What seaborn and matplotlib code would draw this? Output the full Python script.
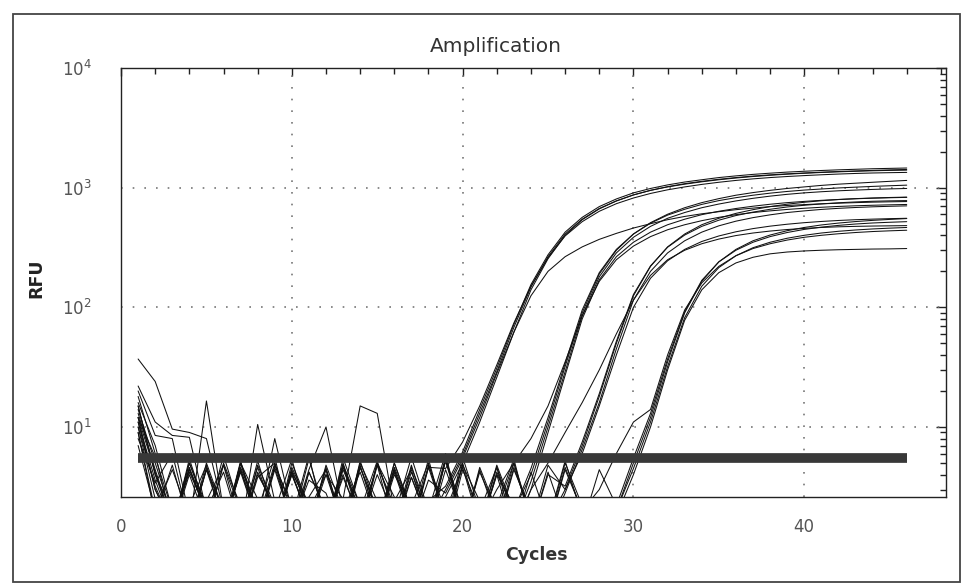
import matplotlib
matplotlib.use("Agg")
import matplotlib.pyplot as plt
import numpy as np
import pandas as pd
import seaborn as sns
from matplotlib.ticker import LogLocator, LogFormatterMathtext, NullFormatter, MultipleLocator
from matplotlib.patches import Rectangle

# cycle numbers 1..46
cycles = list(range(1, 47))

# RFU per well (values under the axis floor are just clipped noise)
a1 = [12, 3.0, 1.5, 4.5, 2.0, 1.2, 5.0, 2.5, 1.5, 4.0, 1.8, 1.3, 5.5, 2.2, 1.5, 4.2, 1.6, 2.4,
      3.2, 6.2, 14, 31, 72, 155, 275, 425, 565, 695, 805, 905, 985, 1055, 1115, 1165, 1215, 1255,
      1292, 1322, 1350, 1372, 1392, 1410, 1425, 1440, 1450, 1460]
a2 = [37, 24, 9.6, 9.0, 8.0, 2.0, 1.4, 4.8, 2.2, 1.5, 3.6, 2.8, 1.2, 4.6, 2.0, 1.3, 3.8, 1.6,
      3.0, 5.8, 13, 29, 68, 148, 265, 410, 545, 670, 775, 870, 950, 1015, 1070, 1120, 1165, 1205,
      1240, 1270, 1297, 1320, 1340, 1357, 1372, 1385, 1395, 1402]
a3 = [16, 7.0, 2.0, 1.5, 16.5, 2.0, 1.3, 10.5, 2.4, 1.5, 4.4, 10.0, 2.0, 1.4, 5.0, 2.6, 1.3, 4.6,
      4.5, 7.5, 15, 33, 74, 150, 260, 395, 520, 635, 735, 820, 895, 960, 1015, 1065, 1110, 1150,
      1185, 1215, 1240, 1262, 1282, 1300, 1315, 1327, 1335, 1342]
a4 = [18, 6.0, 1.5, 5.0, 2.2, 1.4, 4.4, 1.6, 8.0, 2.0, 1.5, 4.0, 2.5, 15, 13, 2.0, 1.4, 3.6,
      2.8, 5.5, 12, 28, 62, 125, 200, 265, 320, 370, 415, 460, 500, 540, 575, 605, 630, 655,
      675, 695, 710, 722, 733, 742, 750, 757, 762, 766]
a5 = [15, 4.0, 1.6, 2.2, 4.8, 1.5, 1.3, 4.2, 2.0, 5.4, 1.6, 1.4, 4.6, 2.0, 1.5, 4.4, 1.8, 1.4,
      2.6, 5.0, 11, 26, 62, 140, 255, 400, 540, 665, 775, 870, 950, 1020, 1080, 1130, 1175, 1215,
      1250, 1280, 1305, 1327, 1347, 1365, 1380, 1395, 1408, 1420]
b1 = [14, 5.0, 1.8, 1.3, 4.6, 2.0, 1.5, 5.2, 1.8, 1.3, 4.2, 2.0, 1.4, 5.0, 2.4, 1.5, 3.8, 1.6,
      1.2, 4.4, 2.0, 1.4, 2.0, 4.0, 11, 32, 90, 190, 300, 410, 510, 600, 680, 750, 810, 865,
      910, 950, 985, 1015, 1045, 1070, 1090, 1110, 1130, 1150]
b2 = [10, 2.5, 1.4, 4.0, 1.6, 5.8, 2.0, 1.3, 4.8, 2.2, 1.5, 4.6, 1.4, 2.0, 5.2, 1.8, 1.4, 4.8,
      2.0, 1.3, 4.4, 1.7, 1.5, 3.5, 10, 29, 85, 180, 285, 385, 475, 555, 620, 680, 730, 775,
      815, 850, 880, 905, 925, 942, 955, 967, 977, 985]
b3 = [8, 3.4, 6.0, 1.6, 2.4, 4.8, 1.5, 2.0, 5.6, 1.4, 2.6, 4.4, 1.6, 1.3, 4.8, 2.2, 1.5, 5.4,
      1.6, 2.4, 1.4, 4.0, 1.3, 3.0, 9, 27, 80, 170, 265, 350, 425, 490, 545, 595, 635, 670,
      700, 727, 750, 768, 784, 797, 808, 817, 824, 830]
b4 = [22, 11, 8.5, 8.2, 2.0, 1.4, 4.6, 2.0, 1.5, 4.0, 1.7, 1.3, 4.4, 2.0, 1.5, 5.0, 2.0, 1.4,
      5.4, 2.0, 1.6, 3.0, 5.0, 8.0, 15, 35, 85, 165, 250, 325, 390, 445, 490, 530, 565, 595,
      620, 640, 658, 673, 686, 697, 706, 713, 719, 724]
b5 = [12, 4.2, 1.5, 5.0, 2.0, 1.4, 4.4, 1.8, 1.3, 5.0, 2.2, 1.5, 4.0, 1.6, 1.4, 4.6, 2.0, 1.5,
      5.2, 1.7, 1.4, 4.2, 2.0, 4.5, 12, 34, 95, 195, 305, 410, 505, 590, 660, 725, 780, 825,
      865, 900, 930, 955, 975, 995, 1010, 1025, 1038, 1050]
c1 = [9, 2.0, 1.4, 5.4, 2.0, 1.5, 4.2, 1.6, 1.3, 4.6, 2.2, 1.5, 3.8, 1.7, 4.8, 1.4, 2.2, 5.0,
      1.6, 1.3, 4.6, 2.0, 1.4, 4.2, 1.6, 3.0, 7.0, 18, 50, 125, 220, 320, 410, 490, 555, 610,
      655, 695, 728, 755, 778, 796, 810, 820, 828, 834]
c2 = [15, 4.0, 2.0, 1.5, 4.4, 2.0, 1.3, 3.8, 5.0, 1.6, 1.4, 4.8, 2.0, 1.5, 4.0, 1.8, 5.6, 2.0,
      1.4, 4.8, 2.4, 1.5, 5.0, 1.8, 1.3, 2.8, 6.5, 16, 45, 115, 200, 285, 360, 425, 480, 525,
      562, 593, 620, 640, 658, 672, 683, 692, 699, 705]
c3 = [7, 2.0, 4.4, 1.8, 1.4, 5.0, 2.2, 1.5, 4.6, 1.7, 5.8, 1.4, 2.0, 4.2, 1.6, 1.3, 4.6, 2.0,
      6.0, 1.5, 1.4, 4.0, 2.2, 1.5, 4.8, 3.0, 6.0, 15, 40, 100, 175, 245, 305, 355, 395, 428,
      455, 477, 495, 510, 522, 532, 540, 546, 551, 555]
c4 = [11, 3.0, 1.5, 4.2, 2.0, 1.4, 5.2, 1.6, 1.3, 4.4, 2.0, 1.5, 5.0, 1.8, 1.4, 4.0, 2.2, 1.6,
      5.6, 1.5, 2.0, 4.6, 1.4, 3.0, 5.0, 9.0, 16, 30, 60, 115, 185, 250, 300, 340, 372, 398,
      418, 434, 447, 457, 465, 471, 475, 478, 480, 482]
c5 = [10, 3.2, 1.5, 4.6, 1.8, 1.4, 5.0, 2.0, 1.5, 4.2, 1.6, 1.3, 4.8, 2.2, 1.5, 4.4, 1.7, 1.4,
      5.2, 2.0, 1.5, 4.6, 1.8, 1.4, 4.0, 3.2, 7.5, 19, 52, 128, 222, 318, 402, 475, 535, 585,
      625, 660, 690, 713, 732, 748, 760, 770, 776, 780]
d1 = [13, 4.4, 1.6, 1.4, 5.0, 2.0, 1.5, 4.6, 1.8, 1.3, 4.2, 2.0, 1.5, 4.8, 1.6, 2.4, 4.4, 1.4,
      1.5, 5.6, 2.0, 1.4, 4.6, 1.8, 1.5, 5.0, 2.2, 1.4, 2.0, 5.0, 12, 35, 90, 165, 240, 305,
      360, 402, 437, 465, 488, 506, 521, 533, 543, 552]
d2 = [9, 1.8, 4.8, 1.5, 2.0, 4.2, 1.4, 1.6, 5.0, 2.0, 1.5, 4.4, 1.3, 5.2, 2.0, 1.5, 4.2, 1.8,
      1.4, 5.0, 1.6, 2.2, 5.4, 1.5, 1.4, 4.4, 2.0, 1.5, 2.0, 4.5, 11, 32, 82, 150, 215, 270,
      315, 350, 378, 400, 418, 432, 443, 452, 459, 465]
d3 = [12, 5.6, 2.0, 1.4, 4.4, 1.6, 1.3, 4.0, 2.2, 1.5, 5.4, 1.8, 1.4, 4.6, 2.0, 1.5, 4.8, 1.6,
      2.0, 4.6, 1.5, 1.4, 4.4, 2.0, 1.6, 5.2, 1.8, 1.4, 1.8, 4.0, 10, 30, 78, 140, 195, 235,
      262, 280, 290, 296, 300, 303, 305, 307, 308, 310]
d4 = [20, 8.5, 8.0, 1.8, 1.5, 4.8, 2.0, 1.4, 4.4, 1.6, 2.0, 4.0, 1.5, 1.4, 5.0, 2.0, 1.5, 4.6,
      1.7, 1.4, 4.2, 2.0, 5.0, 1.6, 1.4, 4.6, 2.0, 3.0, 6.0, 11, 14, 40, 95, 160, 220, 270,
      310, 340, 365, 385, 400, 412, 422, 430, 436, 441]
d5 = [11, 3.6, 1.5, 4.4, 2.0, 1.4, 5.0, 1.8, 1.5, 4.2, 2.2, 1.4, 4.8, 1.6, 1.5, 5.0, 2.0, 1.4,
      4.4, 1.8, 1.5, 4.8, 2.0, 1.4, 4.2, 1.6, 1.5, 4.4, 2.2, 5.5, 13, 37, 92, 168, 240, 300,
      350, 390, 422, 448, 468, 484, 497, 507, 514, 520]

wells = {"A1": a1, "A2": a2, "A3": a3, "A4": a4, "A5": a5,
         "B1": b1, "B2": b2, "B3": b3, "B4": b4, "B5": b5,
         "C1": c1, "C2": c2, "C3": c3, "C4": c4, "C5": c5,
         "D1": d1, "D2": d2, "D3": d3, "D4": d4, "D5": d5}
threshold = 5.5

rows = []
for name, vals in wells.items():
    assert len(vals) == len(cycles), name
    for c, v in zip(cycles, vals):
        rows.append((c, v, name))
df = pd.DataFrame(rows, columns=["Cycle", "RFU", "Well"])

sns.set_style("white")
plt.rcParams["font.family"] = ["DejaVu Sans"]

fig = plt.figure(figsize=(9.66, 5.86), dpi=100)
ax = fig.add_axes([0.1253, 0.1519, 0.854, 0.732])

sns.lineplot(data=df, x="Cycle", y="RFU", units="Well", estimator=None,
             color="#111111", linewidth=0.75, legend=False, ax=ax)
ax.set_yscale("log")
# threshold bar
ax.plot([cycles[0], cycles[-1]], [threshold, threshold], color="#383838", lw=7,
        solid_capstyle="butt", zorder=5)

ax.set_xlim(0, 48.3)
ax.set_ylim(2.6, 1e4)
ax.set_xlabel("")
ax.set_ylabel("")

ax.xaxis.set_major_locator(MultipleLocator(10))
ax.xaxis.set_minor_locator(MultipleLocator(2))
ax.yaxis.set_major_locator(LogLocator(base=10, numticks=10))
ax.yaxis.set_major_formatter(LogFormatterMathtext())
ax.yaxis.set_minor_locator(LogLocator(base=10, subs=np.arange(2, 10), numticks=30))
ax.yaxis.set_minor_formatter(NullFormatter())

ax.tick_params(which="both", direction="inout", color="#222222",
               labelcolor="#555555", labelsize=12)
ax.tick_params(which="major", length=10, width=1)
ax.tick_params(which="minor", length=6, width=1)
ax.tick_params(axis="y", which="major", pad=16)
ax.tick_params(axis="x", which="major", pad=10)

# top and right ticks only point inward
top = ax.secondary_xaxis("top")
top.xaxis.set_major_locator(MultipleLocator(10))
top.xaxis.set_minor_locator(MultipleLocator(2))
top.tick_params(which="both", direction="in", color="#222222", labeltop=False)
top.tick_params(which="major", length=6, width=1)
top.tick_params(which="minor", length=4, width=1)
right = ax.secondary_yaxis("right")
right.yaxis.set_major_locator(LogLocator(base=10, numticks=10))
right.yaxis.set_minor_locator(LogLocator(base=10, subs=np.arange(2, 10), numticks=30))
right.tick_params(which="both", direction="in", color="#222222", labelright=False)
right.tick_params(which="major", length=7, width=1)
right.tick_params(which="minor", length=4, width=1)
for sec in (top, right):
    for s in sec.spines.values():
        s.set_visible(False)

for s in ax.spines.values():
    s.set_color("#222222")
    s.set_linewidth(1)

ax.grid(True, which="major", color="#777777", linestyle=(0, (1, 6)), linewidth=1.2)
ax.grid(False, which="minor")

fig.text(0.5135, 0.9215, "Amplification", ha="center", va="center", fontsize=14.5, color="#333333")
fig.text(0.038, 1 - 278 / 586, "RFU", rotation=90, ha="center", va="center",
         fontsize=12.5, fontweight="bold", color="#222222")
fig.text(0.555, 1 - 555 / 586, "Cycles", ha="center", va="center",
         fontsize=12.5, fontweight="bold", color="#333333")

fig.add_artist(Rectangle((13 / 966, 4 / 586), (960 - 13) / 966, (582 - 14) / 586,
                         transform=fig.transFigure, fill=False, edgecolor="#444444", lw=1.3))

fig.savefig("out.png", dpi=100)
